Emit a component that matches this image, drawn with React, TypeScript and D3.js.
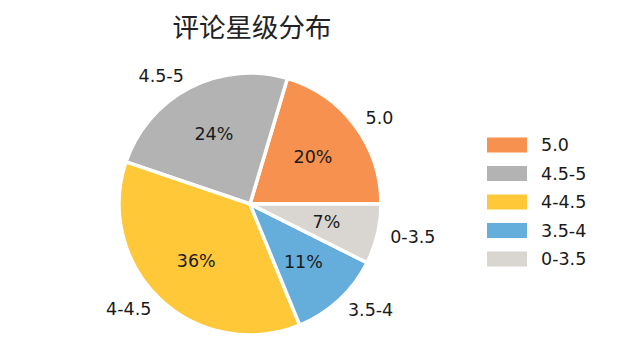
import React from "react";
import * as d3 from "d3";

const categories = ["5.0", "4.5-5", "4-4.5", "3.5-4", "0-3.5"];
const values = [20.4, 24.4, 36.4, 11.4, 7.4];
const colors = ["#F7914F", "#B3B3B3", "#FFC839", "#65AEDB", "#D9D5D1"];
const title = "评论星级分布";

export default function App() {
  const W = 640, H = 357;
  const cx = 250, cy = 204, R = 131;
  const latin = "'DejaVu Sans', sans-serif";
  const pie = d3.pie<number>().sort(null).startAngle(Math.PI / 2).endAngle(Math.PI / 2 - 2 * Math.PI);
  const arcs = pie(values);
  const total = d3.sum(values);
  const arc = d3.arc<d3.PieArcDatum<number>>().innerRadius(0).outerRadius(R);
  const legendY = d3.scalePoint<string>().domain(categories).range([145, 259]);
  return (
    <svg width={W} height={H} style={{ display: "block", position: "absolute", left: 0, top: 0 }}>
      <rect width={W} height={H} fill="#fff" />
      <text x={252} y={37} textAnchor="middle" fontSize={26.5} fontFamily="'Noto Sans CJK SC', sans-serif" fill="#222">{title}</text>
      <g transform={`translate(${cx},${cy})`}>
        {arcs.map((a, i) => (
          <path key={i} d={arc(a) || ""} fill={colors[i]} stroke="#fff" strokeWidth={3.5} strokeLinejoin="round" />
        ))}
        {arcs.map((a, i) => {
          const m = (a.startAngle + a.endAngle) / 2;
          const sx = Math.sin(m), sy = -Math.cos(m);
          const lr = R * 1.1, pr = R * 0.6;
          return (
            <g key={"t" + i} fontFamily={latin} fontSize={17.5} fill="#1a1a1a">
              <text x={sx * lr} y={sy * lr} dy="0.35em" textAnchor={sx >= 0 ? "start" : "end"}>{categories[i]}</text>
              <text x={sx * pr} y={sy * pr} dy="0.35em" textAnchor="middle">{`${Math.round((values[i] / total) * 100)}%`}</text>
            </g>
          );
        })}
      </g>
      <g fontFamily={latin} fontSize={17.5} fill="#1a1a1a">
        {categories.map((c, i) => (
          <g key={c} transform={`translate(487,${legendY(c)})`}>
            <rect x={0} y={-7.5} width={40} height={15} fill={colors[i]} />
            <text x={54} y={0} dy="0.35em">{c}</text>
          </g>
        ))}
      </g>
    </svg>
  );
}
